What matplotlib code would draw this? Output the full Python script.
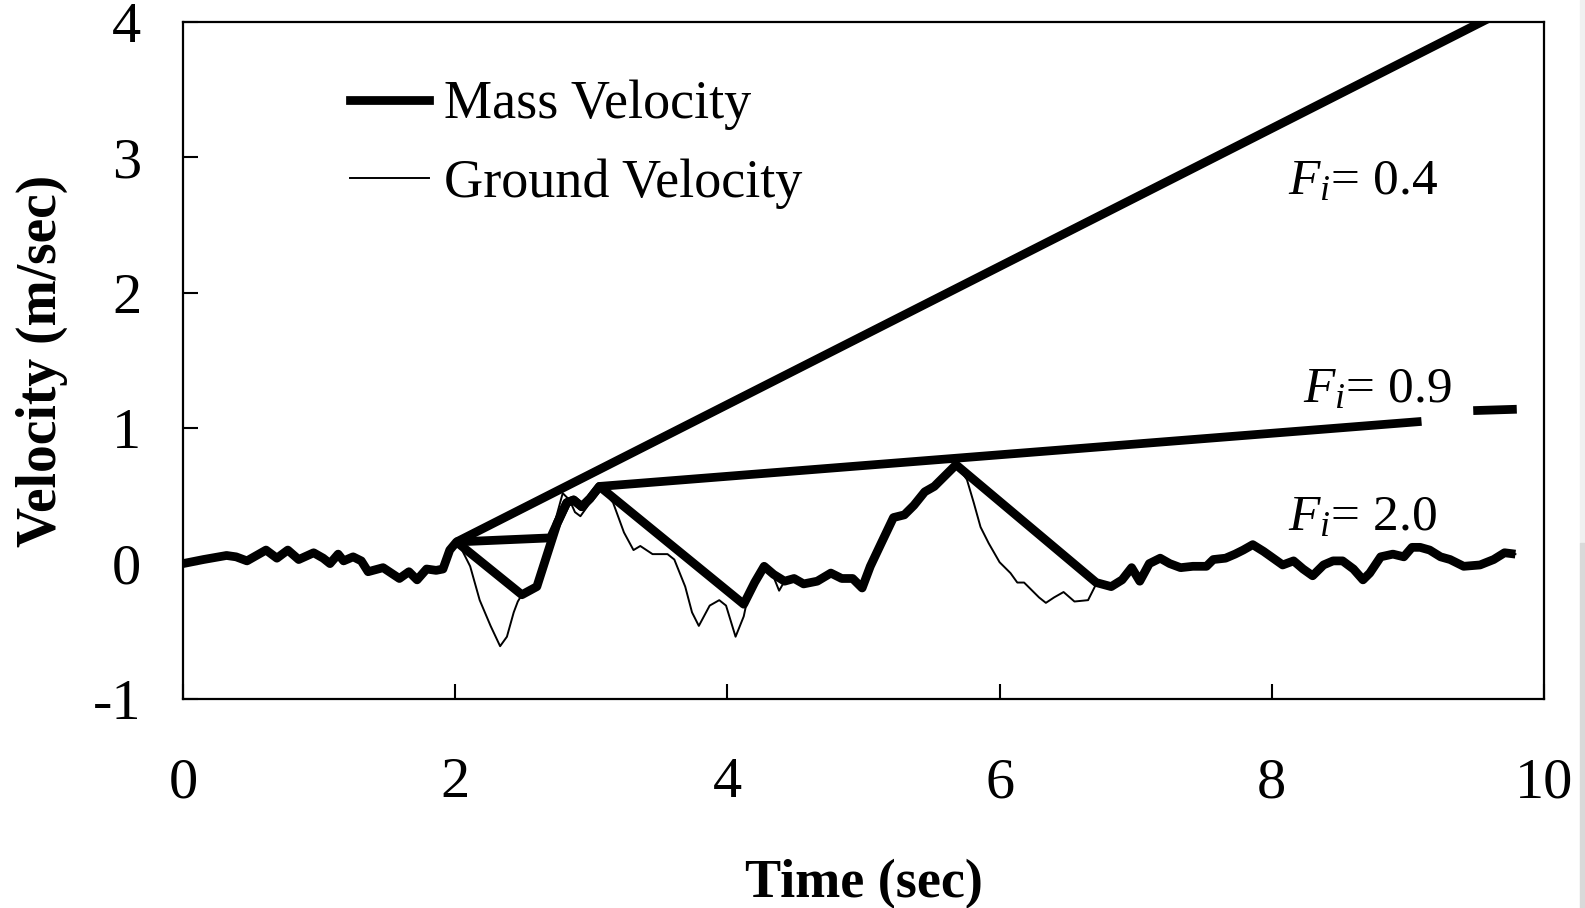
import numpy as np
import matplotlib
matplotlib.use("Agg")
import matplotlib.pyplot as plt
from matplotlib.lines import Line2D
from matplotlib.patches import Rectangle

plt.rcParams['font.family'] = ['Liberation Serif', 'DejaVu Serif']
plt.rcParams['mathtext.fontset'] = 'custom'
plt.rcParams['mathtext.rm'] = 'Liberation Serif'
plt.rcParams['mathtext.it'] = 'Liberation Serif:italic'
plt.rcParams['axes.unicode_minus'] = False

# record before sliding starts (mass and ground move together)
pre_t = [0.0, 0.15, 0.32, 0.39, 0.47, 0.61, 0.69, 0.77, 0.85, 0.96, 1.03, 1.08,
         1.14, 1.18, 1.25, 1.31, 1.36, 1.47, 1.59, 1.66, 1.72, 1.79, 1.86, 1.91,
         1.96, 2.01]
pre_v = [0.0, 0.03, 0.06, 0.05, 0.02, 0.10, 0.04, 0.10, 0.03, 0.08, 0.04, 0.0,
         0.07, 0.02, 0.05, 0.02, -0.06, -0.03, -0.11, -0.06, -0.12, -0.04, -0.05, -0.04,
         0.10, 0.16]

# ground velocity after 2 s
ground_t = [2.035, 2.11, 2.18, 2.26, 2.33, 2.38, 2.43, 2.46, 2.49, 2.60, 2.67, 2.73,
            2.79, 2.84, 2.88, 2.92, 2.97, 3.06, 3.16, 3.24, 3.31, 3.36, 3.45, 3.56,
            3.61, 3.69, 3.74, 3.79, 3.87, 3.94, 3.99, 4.06, 4.12, 4.16, 4.20, 4.27,
            4.34, 4.38, 4.42, 4.49, 4.56, 4.66, 4.76, 4.84, 4.92, 4.99, 5.05, 5.13,
            5.22, 5.30, 5.37, 5.45, 5.52, 5.61, 5.68, 5.76, 5.81, 5.86, 5.92, 6.00,
            6.08, 6.13, 6.18, 6.29, 6.34, 6.40, 6.47, 6.55, 6.65, 6.71]
ground_v = [0.13, -0.02, -0.27, -0.46, -0.61, -0.54, -0.36, -0.28, -0.23, -0.17, 0.05, 0.30,
            0.52, 0.47, 0.38, 0.35, 0.42, 0.57, 0.45, 0.23, 0.10, 0.13, 0.07, 0.07,
            0.03, -0.17, -0.36, -0.46, -0.31, -0.27, -0.31, -0.54, -0.39, -0.20, -0.14, -0.02,
            -0.10, -0.20, -0.13, -0.11, -0.15, -0.13, -0.07, -0.11, -0.11, -0.18, -0.02, 0.15,
            0.34, 0.36, 0.43, 0.53, 0.57, 0.66, 0.73, 0.62, 0.45, 0.27, 0.15, 0.01,
            -0.07, -0.14, -0.14, -0.25, -0.29, -0.25, -0.21, -0.28, -0.27, -0.15]

# shared tail after the last slip
post_t = [6.71, 6.82, 6.90, 6.97, 7.03, 7.10, 7.18, 7.25, 7.33, 7.42, 7.52, 7.57,
          7.66, 7.73, 7.79, 7.86, 7.94, 8.01, 8.08, 8.16, 8.23, 8.30, 8.38, 8.45,
          8.52, 8.60, 8.67, 8.72, 8.80, 8.89, 8.97, 9.03, 9.09, 9.16, 9.24, 9.31,
          9.41, 9.53, 9.63, 9.71, 9.79]
post_v = [-0.14, -0.17, -0.12, -0.03, -0.13, 0.0, 0.04, 0.0, -0.03, -0.02, -0.02, 0.03,
          0.04, 0.07, 0.10, 0.14, 0.09, 0.04, -0.01, 0.02, -0.04, -0.09, -0.01, 0.02,
          0.02, -0.04, -0.12, -0.07, 0.05, 0.07, 0.05, 0.12, 0.12, 0.10, 0.05, 0.03,
          -0.02, -0.01, 0.03, 0.08, 0.07]

# mass velocity, F_i = 2.0
m20_t = [2.01, 2.49, 2.60, 2.67, 2.75, 2.82, 2.87, 2.93, 2.99, 3.06, 4.12, 4.20,
         4.27, 4.34, 4.42, 4.49, 4.56, 4.66, 4.76, 4.84, 4.92, 4.99, 5.05, 5.13,
         5.22, 5.30, 5.37, 5.45, 5.52, 5.61, 5.68, 6.71]
m20_v = [0.16, -0.23, -0.17, 0.05, 0.30, 0.45, 0.47, 0.42, 0.48, 0.57, -0.30, -0.14,
         -0.02, -0.08, -0.13, -0.11, -0.15, -0.13, -0.07, -0.11, -0.11, -0.18, -0.02, 0.15,
         0.34, 0.36, 0.43, 0.53, 0.57, 0.66, 0.73, -0.14]

# mass velocity, F_i = 0.9
m09_t = [2.01, 2.70, 2.75, 2.82, 2.87, 2.93, 2.99, 3.06, 9.10, np.nan, 9.48, 9.80]
m09_v = [0.16, 0.19, 0.30, 0.45, 0.47, 0.42, 0.48, 0.57, 1.05, np.nan, 1.13, 1.14]

# mass velocity, F_i = 0.4
m04_t = [2.01, 9.60]
m04_v = [0.16, 4.03]

fig = plt.figure(figsize=(15.85, 9.08), dpi=100)
ax = fig.add_axes([183 / 1585, 1 - 699 / 908, (1544 - 183) / 1585, (699 - 22) / 908])

THICK = 6.3
thick = dict(color='black', lw=THICK, solid_joinstyle='round', solid_capstyle='butt')
ax.plot(pre_t + ground_t + post_t, pre_v + ground_v + post_v, color='black', lw=1.4)
ax.plot(pre_t + m20_t + post_t, pre_v + m20_v + post_v, **thick)
ax.plot(m09_t, m09_v, **thick)
ax.plot(m04_t, m04_v, **thick)

ax.set_xlim(0, 10)
ax.set_ylim(-1, 4)
ax.set_xticks([0, 2, 4, 6, 8, 10])
ax.set_yticks([-1, 0, 1, 2, 3, 4])
ax.tick_params(direction='in', length=11, width=1.5, labelsize=42,
               top=False, right=False)
ax.tick_params(axis='x', pad=42)
ax.tick_params(axis='y', pad=30)
for s in ax.spines.values():
    s.set_linewidth(1.6)

ax.set_xlabel('Time (sec)', fontsize=39, fontweight='bold', labelpad=36)
ax.set_ylabel('Velocity (m/sec)', fontsize=40, fontweight='bold', labelpad=18)

handles = [Line2D([], [], color='black', lw=THICK),
           Line2D([], [], color='black', lw=1.4)]
ax.legend(handles, ['Mass Velocity', 'Ground Velocity'], loc='upper left',
          bbox_to_anchor=(350 / 1585, 1 - 80 / 908), bbox_transform=fig.transFigure,
          frameon=False, fontsize=39, handlelength=1.45, handletextpad=0.28,
          borderpad=0, borderaxespad=0, labelspacing=0.52)

fig.text(1288 / 1585, 1 - 194 / 908, r'$F_i$= 0.4', fontsize=37)
fig.text(1303 / 1585, 1 - 402 / 908, r'$F_i$= 0.9', fontsize=37)
fig.text(1288 / 1585, 1 - 530 / 908, r'$F_i$= 2.0', fontsize=37)

# grey strip at the right edge of the page
fig.patches.append(Rectangle((1580 / 1585, 1 - 543 / 908), 5 / 1585, 543 / 908,
                             transform=fig.transFigure, color='#f0f0f0', zorder=0))
fig.patches.append(Rectangle((1580 / 1585, 0), 5 / 1585, 1 - 543 / 908,
                             transform=fig.transFigure, color='#d9d9d9', zorder=0))

fig.savefig('out.png', dpi=100)
